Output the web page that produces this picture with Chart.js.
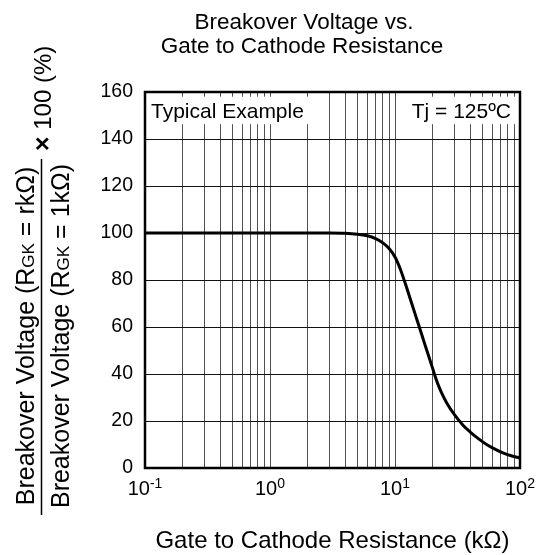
<!DOCTYPE html>
<html>
<head>
<meta charset="utf-8">
<script src="https://cdn.jsdelivr.net/npm/chart.js@4/dist/chart.umd.min.js"></script>
<style>
  html, body { margin: 0; padding: 0; background: #fff; }
  canvas { display: block; }
</style>
</head>
<body>
<canvas id="chartBreakover" width="548" height="555"></canvas>
<script>
// values (Tj = 125 C)
const resistanceK = [0.1, 1, 3, 4, 5, 6, 7, 8, 9, 10, 11, 12, 13, 14, 15, 16, 17, 18, 19, 20,
                     21, 22, 23.5, 26, 30, 35, 40, 47, 54, 63, 73, 85, 100];
const breakoverPct = [100, 100, 100, 99.9, 99.5, 98.8, 97.6, 95.8, 93.3, 89.8, 84.8, 79, 73.3, 68, 63, 58.4, 54, 49.9, 46.1, 42.4,
                      38.8, 35.8, 32.2, 27.6, 22.6, 18.2, 15.3, 12.3, 10, 8, 6.4, 5.2, 4.3];

const xGridValues = [0.1, 0.2, 0.3, 0.4, 0.5, 0.6, 0.7, 0.8, 0.9,
                     1, 2, 3, 4, 5, 6, 7, 8, 9,
                     10, 20, 30, 40, 50, 60, 70, 80, 90, 100];
const xLabelExponents = [-1, 0, 1, 2];
const yTickStep = 20;

const titleLines = ['Breakover Voltage vs.', 'Gate to Cathode Resistance'];
const xTitle = 'Gate to Cathode Resistance (k\u03A9)';
const noteLeft = 'Typical Example';
const noteRight = 'Tj = 125\u00BAC';

const FONT = '"Liberation Sans", Arial, Helvetica, sans-serif';

function drawRuns(ctx, runs, x, y) {
  // runs drawn left to right starting at x, common baseline y
  let cx = x;
  runs.forEach(r => {
    ctx.font = r.font;
    ctx.fillText(r.text, cx, y + (r.dy || 0));
    cx += ctx.measureText(r.text).width;
  });
  return cx - x;
}
function runsWidth(ctx, runs) {
  return runs.reduce((w, r) => { ctx.font = r.font; return w + ctx.measureText(r.text).width; }, 0);
}

const decor = {
  id: 'decor',
  afterDraw(chart) {
    const ctx = chart.ctx;
    const { left, right, top, bottom } = chart.chartArea;
    const xs = chart.scales.x, ys = chart.scales.y;
    ctx.save();

    // note boxes hide the grid behind the text
    const boxTop = ys.getPixelForValue(158);
    const boxBot = ys.getPixelForValue(146.3);
    ctx.fillStyle = '#fff';
    ctx.fillRect(left, boxTop, xs.getPixelForValue(2.06) - left, boxBot - boxTop);
    const rBoxL = xs.getPixelForValue(19.4);
    ctx.fillRect(rBoxL, boxTop, right - rBoxL, boxBot - boxTop);
    ctx.fillStyle = '#000';
    ctx.font = '21px ' + FONT;
    ctx.textBaseline = 'alphabetic';
    ctx.textAlign = 'left';
    ctx.fillText(noteLeft, left + 6, boxBot - 6);
    ctx.textAlign = 'right';
    ctx.fillText(noteRight, right - 9, boxBot - 6);

    // plot frame
    ctx.lineWidth = 2.5;
    ctx.strokeStyle = '#000';
    ctx.strokeRect(left, top, right - left, bottom - top);

    // x tick labels 10^n
    ctx.textAlign = 'left';
    xLabelExponents.forEach(e => {
      const px = xs.getPixelForValue(Math.pow(10, e));
      const runs = [{ text: '10', font: '20px ' + FONT }, { text: String(e), font: '14px ' + FONT, dy: -7 }];
      const w = runsWidth(ctx, runs);
      drawRuns(ctx, runs, px - w / 2, bottom + 27);
    });

    // x axis title
    ctx.font = '24px ' + FONT;
    ctx.textAlign = 'center';
    ctx.fillText(xTitle, (left + right) / 2, 548);

    // chart title
    ctx.font = '22.5px ' + FONT;
    ctx.fillText(titleLines[0], 304, 29);
    ctx.fillText(titleLines[1], 302, 53);

    // y axis title as a fraction, rotated
    const numRuns = [
      { text: 'Breakover Voltage (R', font: '25px ' + FONT },
      { text: 'GK', font: '17px ' + FONT },
      { text: ' = rk\u03A9)', font: '25px ' + FONT }
    ];
    const denRuns = [
      { text: 'Breakover Voltage (R', font: '25px ' + FONT },
      { text: 'GK', font: '17px ' + FONT },
      { text: ' = 1k\u03A9)', font: '25px ' + FONT }
    ];
    const mulRuns = [
      { text: '\u00D7', font: 'bold 25px ' + FONT },
      { text: ' 100 (%)', font: '24px ' + FONT }
    ];
    const fracCenter = 336;
    ctx.rotate(-Math.PI / 2);
    ctx.textAlign = 'left';
    // rotated frame: local x = -screenY, local y = screenX
    let w = runsWidth(ctx, numRuns);
    drawRuns(ctx, numRuns, -fracCenter - w / 2, 34);
    w = runsWidth(ctx, denRuns);
    drawRuns(ctx, denRuns, -fracCenter - w / 2, 69);
    drawRuns(ctx, mulRuns, -151, 51);
    ctx.restore();

    ctx.save();
    ctx.strokeStyle = '#000';
    ctx.lineWidth = 1.5;
    ctx.beginPath();
    ctx.moveTo(41.5, 159);
    ctx.lineTo(41.5, 515);
    ctx.stroke();
    ctx.restore();
  }
};

const chartEl = document.getElementById('chartBreakover');
new Chart(chartEl, {
  type: 'line',
  data: {
    datasets: [{
      data: resistanceK.map((r, i) => ({ x: r, y: breakoverPct[i] })),
      borderColor: '#000',
      borderWidth: 3,
      pointRadius: 0,
      fill: false,
      cubicInterpolationMode: 'monotone'
    }]
  },
  options: {
    responsive: false,
    animation: false,
    devicePixelRatio: 1,
    layout: { padding: { left: 85, right: 28, top: 92, bottom: 47 } },
    plugins: { legend: { display: false }, title: { display: false }, tooltip: { enabled: false } },
    scales: {
      x: {
        type: 'logarithmic', min: 0.1, max: 100,
        afterBuildTicks: s => { s.ticks = xGridValues.map(v => ({ value: v })); },
        afterFit: s => { s.height = 40; },
        ticks: { display: false },
        grid: { color: '#505050', lineWidth: 1, drawTicks: false },
        border: { display: false }
      },
      y: {
        min: 0, max: 160,
        afterFit: s => { s.width = 60; },
        ticks: { stepSize: yTickStep, color: '#000', font: { family: FONT, size: 19.5 }, padding: 12 },
        grid: { color: '#111', lineWidth: 1, drawTicks: false },
        border: { display: false }
      }
    }
  },
  plugins: [decor]
});
</script>
</body>
</html>
